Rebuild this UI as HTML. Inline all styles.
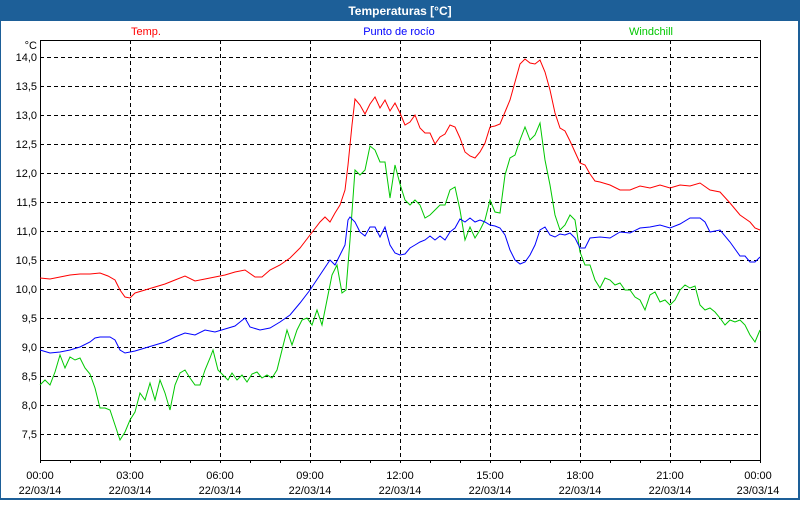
<!DOCTYPE html>
<html><head><meta charset="utf-8"><style>
html,body{margin:0;padding:0;background:#fff}
body{width:800px;height:500px;overflow:hidden}
svg text{font-family:"Liberation Sans",sans-serif}
</style></head><body>
<svg width="800" height="500" xmlns="http://www.w3.org/2000/svg">
<rect x="0" y="0" width="800" height="500" fill="#1d5f98"/>
<rect x="1" y="21" width="797" height="477" fill="#fff"/>
<text x="400" y="15" fill="#fff" font-size="12" font-weight="bold" text-anchor="middle">Temperaturas [°C]</text>
<text x="146" y="35" fill="#f00" font-size="11" text-anchor="middle">Temp.</text>
<text x="399" y="35" fill="#0000ff" font-size="11" text-anchor="middle">Punto de rocío</text>
<text x="651" y="35" fill="#00c800" font-size="11" text-anchor="middle">Windchill</text>
<g stroke="#000" stroke-width="1" stroke-dasharray="4,3">
<path d="M40 57.5H760M40 86.5H760M40 115.5H760M40 144.5H760M40 173.5H760M40 202.5H760M40 231.5H760M40 260.5H760M40 289.5H760M40 318.5H760M40 347.5H760M40 376.5H760M40 405.5H760M40 434.5H760"/>
<path d="M130.5 40V460M220.5 40V460M310.5 40V460M400.5 40V460M490.5 40V460M580.5 40V460M670.5 40V460"/>
</g>
<rect x="40.5" y="40.5" width="720" height="420" fill="none" stroke="#000"/>
<g stroke="#000"><path d="M40.5 460v3M70.5 460v3M100.5 460v3M130.5 460v3M160.5 460v3M190.5 460v3M220.5 460v3M250.5 460v3M280.5 460v3M310.5 460v3M340.5 460v3M370.5 460v3M400.5 460v3M430.5 460v3M460.5 460v3M490.5 460v3M520.5 460v3M550.5 460v3M580.5 460v3M610.5 460v3M640.5 460v3M670.5 460v3M700.5 460v3M730.5 460v3M760.5 460v3"/></g>
<g font-size="11" fill="#000" text-anchor="end">
<text x="37" y="49">°C</text>
<text x="37" y="61">14,0</text><text x="37" y="90">13,5</text><text x="37" y="119">13,0</text><text x="37" y="148">12,5</text><text x="37" y="177">12,0</text><text x="37" y="206">11,5</text><text x="37" y="235">11,0</text><text x="37" y="264">10,5</text><text x="37" y="293">10,0</text><text x="37" y="322">9,5</text><text x="37" y="351">9,0</text><text x="37" y="380">8,5</text><text x="37" y="409">8,0</text><text x="37" y="438">7,5</text>
</g>
<g font-size="11" fill="#000" text-anchor="middle">
<text x="40" y="479">00:00</text><text x="40" y="494">22/03/14</text>
<text x="130" y="479">03:00</text><text x="130" y="494">22/03/14</text>
<text x="220" y="479">06:00</text><text x="220" y="494">22/03/14</text>
<text x="310" y="479">09:00</text><text x="310" y="494">22/03/14</text>
<text x="400" y="479">12:00</text><text x="400" y="494">22/03/14</text>
<text x="490" y="479">15:00</text><text x="490" y="494">22/03/14</text>
<text x="580" y="479">18:00</text><text x="580" y="494">22/03/14</text>
<text x="670" y="479">21:00</text><text x="670" y="494">22/03/14</text>
<text x="758" y="479">00:00</text><text x="758" y="494">23/03/14</text>
</g>
<g fill="none" stroke-width="1">
<polyline stroke="#00c800" points="40,385 45,380 50,385 55,372 60,355 65,368 70,357 75,360 80,358 85,368 90,374 95,388 100,408 105,408 110,410 115,425 120,440 125,432 130,420 135,412 140,393 145,400 150,383 155,400 160,380 165,393 170,410 175,385 180,373 185,370 190,378 195,385 200,385 205,370 210,358 213,350 218,370 223,375 228,380 232,373 237,380 242,375 247,382 252,374 257,372 262,378 267,375 272,378 277,370 282,350 287,330 292,345 297,330 302,320 307,318 312,325 317,310 322,325 327,300 332,275 337,265 342,293 346,290 350,240 355,170 360,175 365,170 370,146 375,150 380,162 385,162 390,198 395,165 400,184 405,200 410,205 415,200 420,205 425,218 430,215 435,210 440,205 445,205 450,190 455,187 460,210 465,240 470,227 475,238 480,230 485,220 490,200 495,212 500,213 505,175 510,158 515,155 520,140 525,127 530,140 535,135 540,123 545,160 550,185 555,215 560,230 565,225 570,215 575,220 580,252 585,265 590,265 595,280 600,288 605,278 610,280 615,285 620,283 625,290 630,290 635,297 640,300 645,310 650,295 655,292 660,302 665,300 670,305 675,300 680,290 685,285 690,288 695,286 700,305 705,310 710,308 715,312 720,318 725,325 730,320 735,322 740,320 745,325 750,335 755,342 760,330"/>
<polyline stroke="#0000ff" points="40,350 50,353 60,352 70,350 80,347 90,342 95,338 100,337 110,337 115,340 120,350 125,353 135,351 145,348 155,345 165,342 175,337 185,333 195,335 205,330 215,332 225,329 235,326 240,322 245,318 250,327 260,330 270,328 280,322 290,315 300,303 310,290 320,275 330,260 335,265 340,255 345,245 348,220 350,217 355,222 360,232 365,236 370,227 375,227 380,237 385,227 390,245 395,253 400,255 405,254 410,248 415,245 420,242 425,240 430,236 435,240 440,236 445,240 450,232 455,228 460,219 465,222 470,218 475,222 480,220 485,222 490,225 495,226 500,228 505,235 510,250 515,260 520,264 525,262 530,255 535,245 540,230 545,227 550,235 555,237 560,234 565,235 570,233 575,238 580,248 585,248 590,238 600,237 610,238 620,232 630,233 640,228 650,227 660,225 670,228 680,224 690,218 700,218 705,222 710,232 720,230 730,242 740,256 745,256 750,262 755,262 760,257"/>
<polyline stroke="#ff0000" points="40,278 50,279 60,277 70,275 80,274 90,274 100,273 108,276 115,280 120,290 125,297 130,298 135,293 145,290 155,287 165,284 175,280 185,276 195,281 205,279 215,277 225,275 235,272 245,270 255,277 262,277 270,270 280,265 290,258 300,248 310,235 320,222 325,217 330,222 335,213 340,205 345,190 348,165 352,125 355,99 360,105 365,114 370,104 375,97 380,108 385,100 390,111 395,103 400,113 405,125 410,122 415,115 420,128 425,133 430,133 435,144 440,137 445,134 450,125 455,127 460,138 465,152 470,156 475,158 480,152 485,143 490,127 495,126 500,124 505,112 510,100 515,82 520,64 525,59 530,63 535,64 540,60 545,72 550,90 555,113 560,128 565,131 570,141 575,152 580,163 585,165 590,174 595,181 600,182 610,185 620,190 630,190 640,186 650,188 660,185 670,188 680,185 690,186 700,183 710,190 720,192 730,203 740,215 750,222 755,228 760,230"/>
</g>
</svg>
</body></html>
